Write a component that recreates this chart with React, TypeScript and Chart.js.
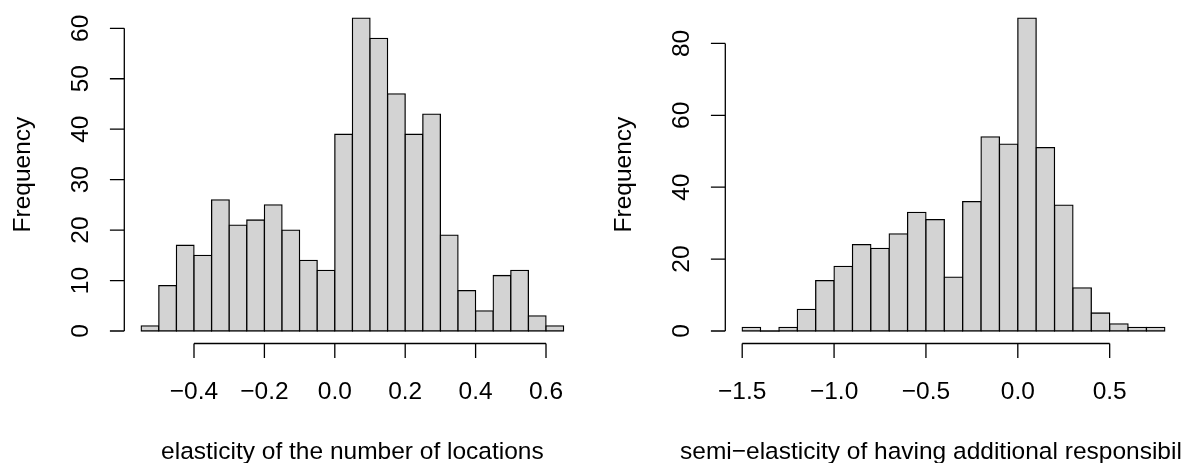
import React, { useEffect, useRef } from "react";
import { Chart, registerables } from "chart.js";

Chart.register(...registerables);

// ---------- Data ----------
const leftBinStarts = [
  -0.55, -0.5, -0.45, -0.4, -0.35, -0.3, -0.25, -0.2, -0.15, -0.1, -0.05, 0.0,
  0.05, 0.1, 0.15, 0.2, 0.25, 0.3, 0.35, 0.4, 0.45, 0.5, 0.55, 0.6,
];
const leftBinWidth = 0.05;
const leftCounts = [
  1, 9, 17, 15, 26, 21, 22, 25, 20, 14, 12, 39, 62, 58, 47, 39, 43, 19, 8, 4, 11, 12, 3, 1,
];
const leftXTicks = [-0.4, -0.2, 0.0, 0.2, 0.4, 0.6];
const leftXTickLabels = ["\u22120.4", "\u22120.2", "0.0", "0.2", "0.4", "0.6"];
const leftYTicks = [0, 10, 20, 30, 40, 50, 60];
const leftXTitle = "elasticity of the number of locations";

const rightBinStarts = [
  -1.5, -1.4, -1.3, -1.2, -1.1, -1.0, -0.9, -0.8, -0.7, -0.6, -0.5, -0.4, -0.3,
  -0.2, -0.1, 0.0, 0.1, 0.2, 0.3, 0.4, 0.5, 0.6, 0.7,
];
const rightBinWidth = 0.1;
const rightCounts = [
  1, 0, 1, 6, 14, 18, 24, 23, 27, 33, 31, 15, 36, 54, 52, 87, 51, 35, 12, 5, 2, 1, 1,
];
const rightXTicks = [-1.5, -1.0, -0.5, 0.0, 0.5];
const rightXTickLabels = ["\u22121.5", "\u22121.0", "\u22120.5", "0.0", "0.5"];
const rightYTicks = [0, 20, 40, 60, 80];
const rightXTitle = "semi\u2212elasticity of having additional responsibil";

const yTitle = "Frequency";

// ---------- Layout / style ----------
const W = 1190;
const H = 463;
const FONT = '24.5px "Liberation Sans", Arial, Helvetica, sans-serif';
const LINE_W = 1.3;
const TICK_LEN = 14.4;
const BAR_FILL = "#D3D3D3";

type Panel = {
  starts: number[];
  width: number;
  counts: number[];
  xTicks: number[];
  xTickLabels: string[];
  yTicks: number[];
  xTitle: string;
  xTitleLeft?: number; // absolute left x when text is left aligned
  area: { left: number; right: number; top: number; bottom: number };
  xRange: [number, number];
  yRange: [number, number];
};

const panels: Panel[] = [
  {
    starts: leftBinStarts,
    width: leftBinWidth,
    counts: leftCounts,
    xTicks: leftXTicks,
    xTickLabels: leftXTickLabels,
    yTicks: leftYTicks,
    xTitle: leftXTitle,
    area: { left: 124.3, right: 580.5, top: 5.7, bottom: 343.5 },
    xRange: [-0.598, 0.698],
    yRange: [-2.48, 64.48],
  },
  {
    starts: rightBinStarts,
    width: rightBinWidth,
    counts: rightCounts,
    xTicks: rightXTicks,
    xTickLabels: rightXTickLabels,
    yTicks: rightYTicks,
    xTitle: rightXTitle,
    xTitleLeft: 680,
    area: { left: 725.3, right: 1181.7, top: 5.7, bottom: 343.5 },
    xRange: [-1.592, 0.892],
    yRange: [-3.48, 90.48],
  },
];

function makeAxesPlugin(p: Panel) {
  return {
    id: "rStyleAxes",
    afterDraw(chart: any) {
      const ctx: CanvasRenderingContext2D = chart.ctx;
      const xs = chart.scales.x;
      const ys = chart.scales.y;
      const area = chart.chartArea;
      ctx.save();
      ctx.strokeStyle = "#000";
      ctx.fillStyle = "#000";
      ctx.lineWidth = LINE_W;
      ctx.font = FONT;

      // x axis
      const xb = area.bottom;
      const xFirst = xs.getPixelForValue(p.xTicks[0]);
      const xLast = xs.getPixelForValue(p.xTicks[p.xTicks.length - 1]);
      ctx.beginPath();
      ctx.moveTo(xFirst, xb);
      ctx.lineTo(xLast, xb);
      p.xTicks.forEach((v) => {
        const px = xs.getPixelForValue(v);
        ctx.moveTo(px, xb);
        ctx.lineTo(px, xb + TICK_LEN);
      });
      // y axis
      const yl = area.left;
      const yFirst = ys.getPixelForValue(p.yTicks[0]);
      const yLast = ys.getPixelForValue(p.yTicks[p.yTicks.length - 1]);
      ctx.moveTo(yl, yFirst);
      ctx.lineTo(yl, yLast);
      p.yTicks.forEach((v) => {
        const py = ys.getPixelForValue(v);
        ctx.moveTo(yl, py);
        ctx.lineTo(yl - TICK_LEN, py);
      });
      ctx.stroke();

      // x tick labels
      ctx.textAlign = "center";
      ctx.textBaseline = "alphabetic";
      p.xTicks.forEach((v, i) => {
        ctx.fillText(p.xTickLabels[i], xs.getPixelForValue(v), xb + 55.5);
      });

      // y tick labels (rotated, parallel to axis)
      p.yTicks.forEach((v) => {
        const py = ys.getPixelForValue(v);
        ctx.save();
        ctx.translate(yl - 36, py);
        ctx.rotate(-Math.PI / 2);
        ctx.textAlign = "center";
        ctx.fillText(String(v), 0, 0);
        ctx.restore();
      });

      // x title
      if (p.xTitleLeft !== undefined) {
        ctx.textAlign = "left";
        ctx.fillText(p.xTitle, p.xTitleLeft, xb + 115.5);
      } else {
        ctx.textAlign = "center";
        ctx.fillText(p.xTitle, (area.left + area.right) / 2, xb + 115.5);
      }

      // y title
      ctx.save();
      ctx.translate(yl - 94, (area.top + area.bottom) / 2);
      ctx.rotate(-Math.PI / 2);
      ctx.textAlign = "center";
      ctx.fillText(yTitle, 0, 0);
      ctx.restore();

      ctx.restore();
    },
  };
}

function HistCanvas({ panel }: { panel: Panel }) {
  const ref = useRef<HTMLCanvasElement | null>(null);
  useEffect(() => {
    if (!ref.current) return;
    const p = panel;
    const data = p.starts.map((s, i) => ({ x: s + p.width / 2, y: p.counts[i] }));
    const isEmpty = (c: any) => !!(c.raw && c.raw.y === 0);
    const chart = new Chart(ref.current, {
      type: "bar",
      data: {
        datasets: [
          {
            data: data as any,
            // an empty bin is drawn as a flat black line, as R's hist does
            backgroundColor: (c: any) => (isEmpty(c) ? "#000" : BAR_FILL),
            borderColor: "#000",
            borderWidth: (c: any) => (isEmpty(c) ? 0 : LINE_W),
            borderSkipped: false,
            inflateAmount: LINE_W / 2,
            barPercentage: 1,
            categoryPercentage: 1,
          } as any,
        ],
      },
      options: {
        responsive: false,
        animation: false,
        events: [],
        layout: {
          padding: {
            left: p.area.left,
            right: W - p.area.right,
            top: p.area.top,
            bottom: H - p.area.bottom,
          },
        },
        plugins: {
          legend: { display: false },
          tooltip: { enabled: false },
          title: { display: false },
        },
        scales: {
          x: {
            type: "linear",
            min: p.xRange[0],
            max: p.xRange[1],
            display: false,
            offset: false,
          },
          y: {
            type: "linear",
            min: p.yRange[0],
            max: p.yRange[1],
            display: false,
          },
        },
      } as any,
      plugins: [makeAxesPlugin(p)],
    });
    return () => chart.destroy();
  }, [panel]);
  return (
    <canvas
      ref={ref}
      width={W}
      height={H}
      style={{ position: "absolute", left: 0, top: 0, width: W, height: H }}
    />
  );
}

export default function App() {
  return (
    <div
      style={{
        position: "absolute",
        left: 0,
        top: 0,
        width: W,
        height: H,
        background: "#fff",
        overflow: "hidden",
      }}
    >
      {panels.map((p, i) => (
        <HistCanvas key={i} panel={p} />
      ))}
    </div>
  );
}
